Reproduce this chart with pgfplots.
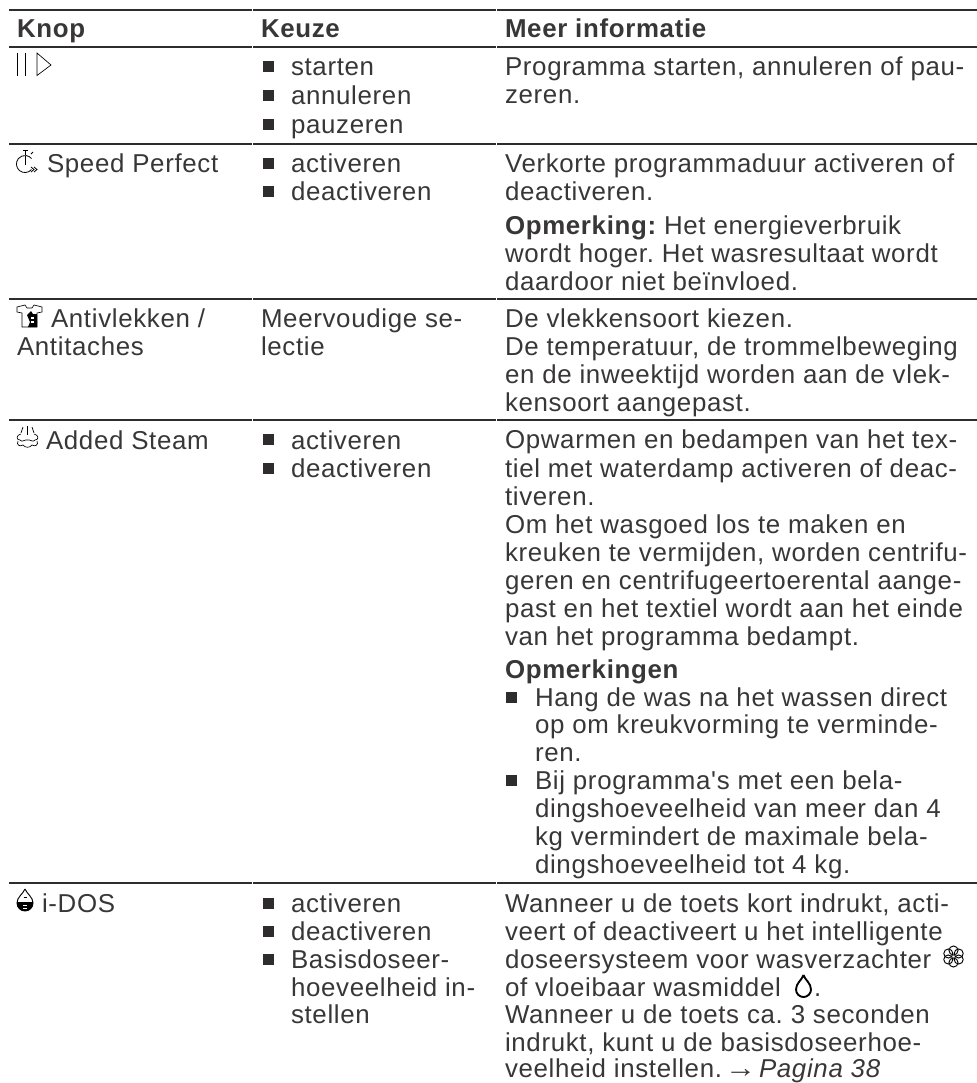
\documentclass[border=0pt]{standalone}
\usepackage{pgfplots}
\pgfplotsset{compat=1.18}
\usepackage{fontspec}
\setmainfont{Liberation Sans}[LetterSpace=2.6,Ligatures=TeXOff]
\definecolor{ink}{HTML}{2E2C2D}
\definecolor{txtc}{HTML}{383637}
\tikzset{txt/.style={anchor=base west,inner sep=0pt,outer sep=0pt,text=txtc,font=\fontsize{19.4}{23}\selectfont\frenchspacing}}
\newcommand{\T}[3]{\node[txt] at (axis cs:#1,#2) {#3};}
\begin{document}
\begin{tikzpicture}
\useasboundingbox (0,0) rectangle (732.75pt,812.25pt);
\begin{axis}[at={(0,0)},anchor=south west,scale only axis,width=732.75pt,height=812.25pt,
  xmin=0,xmax=977,ymin=0,ymax=1083,y dir=reverse,hide axis,clip=false]
% rules
\pgfplotsinvokeforeach{9.5,47,144,298.7,419.5,883}{
  \addplot[ink,line width=1.5pt,forget plot] coordinates {(9,#1) (252,#1)};
  \addplot[ink,line width=1.5pt,forget plot] coordinates {(253,#1) (496,#1)};
  \addplot[ink,line width=1.5pt,forget plot] coordinates {(497,#1) (977,#1)};
}
% bullets
\addplot[only marks,mark=square*,mark size=3.6pt,ink,forget plot] coordinates {
 (268,66) (268,95) (268,124) (268,163) (268,191) (268,439) (268,468)
 (268,903) (268,931) (268,959) (511,697) (511,780)};
% header
\T{17}{37}{\bfseries Knop}
\T{261}{37}{\bfseries Keuze}
\T{505}{37}{\bfseries Meer informatie}
% column 1
\T{47}{172}{Speed Perfect}
\T{51}{327}{Antivlekken /}
\T{17}{355}{Antitaches}
\T{46}{449}{Added Steam}
\T{42}{912}{i-DOS}
% column 2
\T{291}{75}{starten}
\T{291}{104}{annuleren}
\T{291}{133}{pauzeren}
\T{291}{172}{activeren}
\T{291}{200}{deactiveren}
\T{261}{327}{Meervoudige se-}
\T{261}{355}{lectie}
\T{291}{449}{activeren}
\T{291}{477}{deactiveren}
\T{291}{912}{activeren}
\T{291}{940}{deactiveren}
\T{291}{968}{Basisdoseer-}
\T{291}{996}{hoeveelheid in-}
\T{291}{1023}{stellen}
% column 3
\T{505}{75}{Programma starten, annuleren of pau-}
\T{505}{103}{zeren.}
\T{505}{172}{Verkorte programmaduur activeren of}
\T{505}{200}{deactiveren.}
\T{505}{234}{{\bfseries Opmerking:} Het energieverbruik}
\T{505}{262}{wordt hoger. Het wasresultaat wordt}
\T{505}{290}{daardoor niet beïnvloed.}
\T{505}{327}{De vlekkensoort kiezen.}
\T{505}{355}{De temperatuur, de trommelbeweging}
\T{505}{383}{en de inweektijd worden aan de vlek-}
\T{505}{411}{kensoort aangepast.}
\T{505}{448}{Opwarmen en bedampen van het tex-}
\T{505}{477}{tiel met waterdamp activeren of deac-}
\T{505}{505}{tiveren.}
\T{505}{533}{Om het wasgoed los te maken en}
\T{505}{561}{kreuken te vermijden, worden centrifu-}
\T{505}{589}{geren en centrifugeertoerental aange-}
\T{505}{617}{past en het textiel wordt aan het einde}
\T{505}{645}{van het programma bedampt.}
\T{505}{678}{\bfseries Opmerkingen}
\T{535}{706}{Hang de was na het wassen direct}
\T{535}{733}{op om kreukvorming te verminde-}
\T{535}{761}{ren.}
\T{535}{789}{Bij programma's met een bela-}
\T{535}{817}{dingshoeveelheid van meer dan 4}
\T{535}{845}{kg vermindert de maximale bela-}
\T{535}{873}{dingshoeveelheid tot 4 kg.}
\T{505}{912}{Wanneer u de toets kort indrukt, acti-}
\T{505}{940}{veert of deactiveert u het intelligente}
\T{505}{968}{doseersysteem voor wasverzachter}
\T{505}{996}{of vloeibaar wasmiddel}
\T{814}{996}{.}
\T{505}{1023}{Wanneer u de toets ca. 3 seconden}
\T{505}{1051}{indrukt, kunt u de basisdoseerhoe-}
\T{505}{1077.5}{veelheid instellen.}
\T{725}{1077.5}{\scalebox{1.2}[1.1]{→}}
\T{759}{1077.5}{\itshape Pagina 38}
% icons: pause/play
\draw[black,line width=0.6pt] (axis cs:17,53)--(axis cs:17,76);
\draw[black,line width=0.6pt] (axis cs:25.7,53)--(axis cs:25.7,76);
\draw[black,line width=0.5pt] (axis cs:37,53)--(axis cs:51,65)--(axis cs:37,75.5)--cycle;
% stopwatch
\begin{scope}[shift={(axis cs:25,164)},x=0.75pt,y=-0.75pt,black,line width=0.6pt]
\draw (6.5,5.5) arc (-40:-320:6.4pt);
\draw (0,-8)--(0,1);
\draw (-2.5,-13.5)--(2.5,-13.5);\draw (0,-13.5)--(0,-9);
\draw (6,-10)--(8,-12);
\draw (6,3)--(9,5.5)--(6,8);\draw (9,3)--(12,5.5)--(9,8);
\end{scope}
% shirt
\begin{scope}[shift={(axis cs:17,305)},x=0.75pt,y=-0.75pt,black,line width=0.5pt]
\draw (8,0)--(0,2)--(0,7)--(5,8)--(5,22)--(20,22)--(20,8)--(25,7)--(25,2)--(17,0)--(15,3)--(10,3)--cycle;
\fill (10,10)--(14,6)--(16,9)--(20,9)--(20,22)--(11,22)--(13,17)--cycle;
\fill[white] (14,12) rectangle (17,13.5);\fill[white] (14,16) rectangle (17,17.5);
\end{scope}
% steam
\begin{scope}[shift={(axis cs:17,426)},x=0.75pt,y=-0.75pt,black,line width=0.5pt]
\draw (10.5,0)--(10.5,9);\draw (6,1)--(4,7);\draw (15,1)--(17,7);
\draw (4,8) .. controls (-1,9) and (-1,14) .. (3,14) .. controls (5,17) and (8,13) .. (10.5,14) .. controls (13,13) and (16,17) .. (18,14) .. controls (22,14) and (22,9) .. (17,8);
\draw (1,15) .. controls (-1,19) and (3,21) .. (6,19) .. controls (8,22) and (13,22) .. (15,19) .. controls (18,21) and (22,19) .. (20,15);
\end{scope}
% i-DOS drop
\begin{scope}[shift={(axis cs:25,889)},x=0.75pt,y=-0.75pt,black,line width=0.7pt]
\draw (0,0) .. controls (-2,5) and (-8,8) .. (-8,14) arc (180:360:6pt) .. controls (8,8) and (2,5) .. (0,0);
\fill (-8,13) -- (8,13) -- (8,14) arc (0:-180:6pt) -- cycle;
\fill[white] (-2,15.5) rectangle (2,16.5);\fill[white] (-2,18.5) rectangle (2,19.5);
\draw (-1.5,8)--(1.5,8);
\end{scope}
% flower
\begin{scope}[shift={(axis cs:953.5,956.5)},x=0.75pt,y=-0.75pt,black,line width=0.7pt]
\draw (5.2,3) circle (3.4pt);
\draw (0,6) circle (3.4pt);
\draw (-5.2,3) circle (3.4pt);
\draw (-5.2,-3) circle (3.4pt);
\draw (0,-6) circle (3.4pt);
\draw (5.2,-3) circle (3.4pt);
\end{scope}
% drop
\begin{scope}[shift={(axis cs:803.5,975)},x=0.75pt,y=-0.75pt,black,line width=1.4pt]
\draw (0,0) .. controls (-1.5,5) and (-7.5,8) .. (-7.5,14.5) arc (180:360:5.625pt) .. controls (7.5,8) and (1.5,5) .. (0,0);
\end{scope}
\end{axis}
\end{tikzpicture}
\end{document}
